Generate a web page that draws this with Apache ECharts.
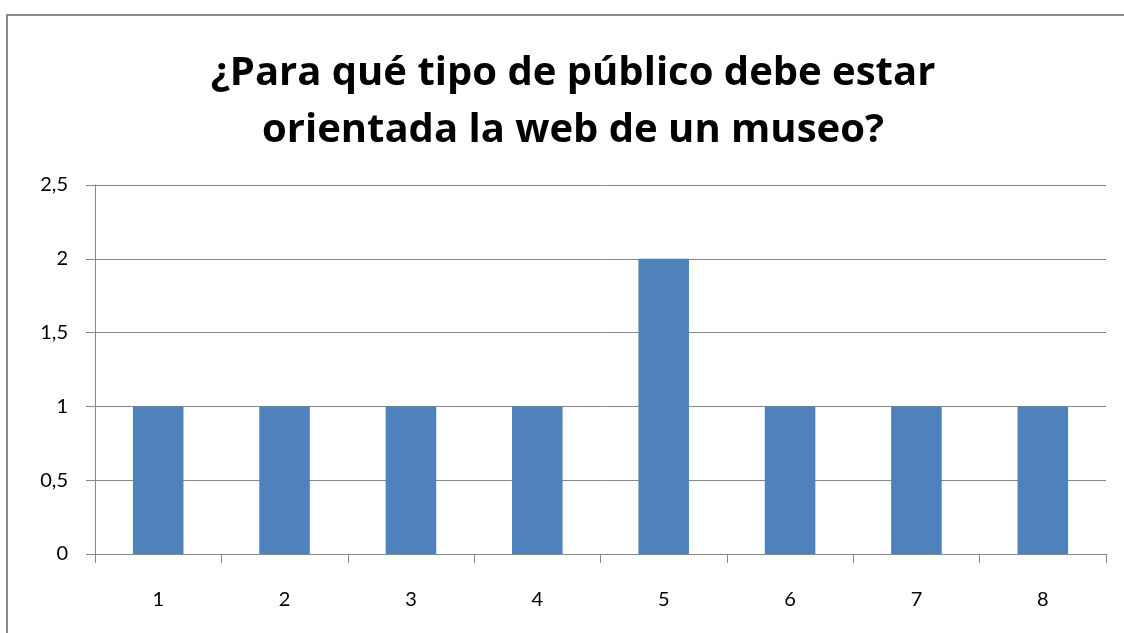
<!DOCTYPE html>
<html>
<head>
<meta charset="utf-8">
<script src="https://cdn.jsdelivr.net/npm/echarts@6/dist/echarts.min.js"></script>
<style>
  html, body { margin: 0; padding: 0; background: #fff; }
  #chart { width: 1124px; height: 633px; }
</style>
</head>
<body>
<div id="chart"></div>
<script>
const categories = ['1', '2', '3', '4', '5', '6', '7', '8']
const values = [1, 1, 1, 1, 2, 1, 1, 1]
const yTicks = [0, 0.5, 1, 1.5, 2, 2.5]

const chart = echarts.init(document.getElementById('chart'))

const axisGrey = '#878787'

const option = {
  animation: false,
  backgroundColor: '#ffffff',
  title: {
    text: '¿Para qué tipo de público debe estar\norientada la web de un museo?',
    left: 568,
    textAlign: 'center',
    top: 40,
    textStyle: {
      fontFamily: 'Open Sans',
      fontWeight: 'bold',
      fontSize: 40,
      lineHeight: 57,
      color: '#000'
    }
  },
  graphic: [{
    type: 'rect',
    shape: { x: 7, y: 15, width: 1140, height: 640 },
    style: { fill: 'none', stroke: '#8a8a8a', lineWidth: 2 },
    silent: true
  }],
  grid: {
    left: 95,
    right: 18,
    top: 185,
    bottom: 79,
    containLabel: false
  },
  xAxis: {
    type: 'category',
    data: categories,
    axisLine: { lineStyle: { color: axisGrey, width: 1 } },
    axisTick: { show: true, length: 9, lineStyle: { color: axisGrey } },
    axisLabel: {
      color: '#000',
      fontFamily: 'Lato',
      fontSize: 20,
      margin: 36
    }
  },
  yAxis: {
    type: 'value',
    min: yTicks[0],
    max: yTicks[yTicks.length - 1],
    interval: 0.5,
    axisLine: { show: true, lineStyle: { color: axisGrey, width: 1 } },
    axisTick: { show: true, length: 9, lineStyle: { color: axisGrey } },
    splitLine: { lineStyle: { color: axisGrey, width: 1 } },
    axisLabel: {
      color: '#000',
      fontFamily: 'Lato',
      fontSize: 20,
      margin: 27,
      formatter: v => String(v).replace('.', ',')
    }
  },
  series: [{
    type: 'bar',
    data: values,
    barWidth: '40%',
    itemStyle: { color: '#4f81bd' }
  }]
}

chart.setOption(option)
</script>
</body>
</html>
